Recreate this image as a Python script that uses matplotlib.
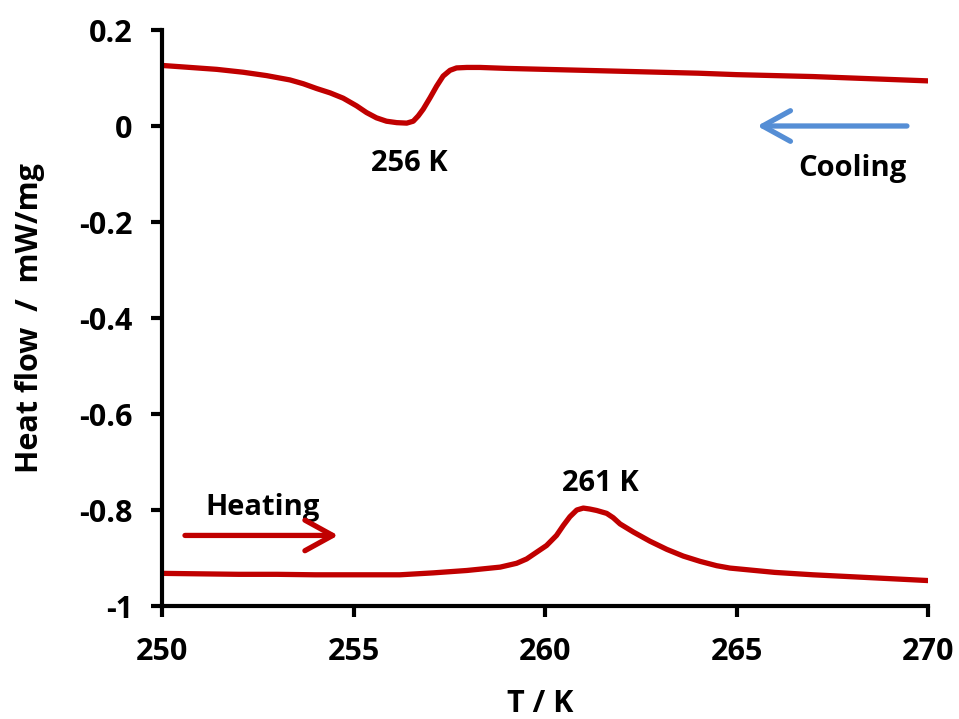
import matplotlib
matplotlib.use("Agg")
import matplotlib.pyplot as plt

# Cooling curve (T in K, heat flow in mW/mg)
cool_T = [250.03, 250.56, 251.43, 252.12, 252.73, 253.34, 253.69, 254.04, 254.39, 254.73,
          255.08, 255.34, 255.6, 255.86, 256.13, 256.39, 256.56, 256.69, 256.82, 257.0,
          257.17, 257.34, 257.52, 257.69, 257.96, 258.3, 259.0, 260.0, 261.0, 262.0,
          263.0, 264.0, 265.0, 266.0, 267.0, 268.0, 269.0, 270.0]
cool_Q = [0.126, 0.123, 0.118, 0.112, 0.105, 0.096, 0.088, 0.078, 0.069, 0.058,
          0.042, 0.028, 0.017, 0.010, 0.007, 0.006, 0.010, 0.021, 0.035, 0.059,
          0.083, 0.104, 0.116, 0.121, 0.122, 0.122, 0.120, 0.118, 0.116, 0.114,
          0.112, 0.110, 0.107, 0.105, 0.103, 0.100, 0.097, 0.094]

# Heating curve
heat_T = [250.0, 251.0, 252.0, 253.0, 254.0, 255.0, 256.21, 257.08, 257.96, 258.83,
          259.26, 259.52, 259.78, 260.04, 260.3, 260.48, 260.65, 260.83, 261.0, 261.17,
          261.35, 261.61, 261.78, 261.96, 262.31, 262.74, 263.18, 263.61, 264.05, 264.48,
          264.83, 266.0, 267.0, 268.0, 269.0, 270.0]
heat_Q = [-0.932, -0.933, -0.934, -0.934, -0.935, -0.935, -0.935, -0.931, -0.926, -0.919,
          -0.911, -0.902, -0.888, -0.874, -0.853, -0.832, -0.814, -0.800, -0.796, -0.798,
          -0.801, -0.807, -0.816, -0.829, -0.846, -0.865, -0.882, -0.896, -0.907, -0.916,
          -0.921, -0.930, -0.935, -0.939, -0.943, -0.947]

x_ticks = [250, 255, 260, 265, 270]
y_ticks = [0.2, 0, -0.2, -0.4, -0.6, -0.8, -1]
y_tick_labels = ["0.2", "0", "-0.2", "-0.4", "-0.6", "-0.8", "-1"]

plt.rcParams['font.family'] = ['Open Sans', 'DejaVu Sans']
plt.rcParams['font.weight'] = 'bold'

FS = 21
TFS = 22
fig = plt.figure(figsize=(9.59, 7.19), dpi=100)
ax = fig.add_axes([162/959, 1 - 606/719, (928 - 162)/959, (606 - 30)/719])

red = "#C00000"
blue = "#558ED5"
ax.plot(cool_T, cool_Q, color=red, lw=3.8, solid_joinstyle='round')
ax.plot(heat_T, heat_Q, color=red, lw=3.8, solid_joinstyle='round')

ax.set_xlim(250, 270)
ax.set_ylim(-1, 0.2)
ax.set_xticks(x_ticks)
ax.set_yticks(y_ticks)
ax.set_yticklabels(y_tick_labels)
for s in ['top', 'right']:
    ax.spines[s].set_visible(False)
for s in ['left', 'bottom']:
    ax.spines[s].set_linewidth(3)
    ax.spines[s].set_capstyle('projecting')
ax.tick_params(axis='both', direction='out', width=3, length=8, labelsize=TFS)
ax.tick_params(axis='x', pad=14)
ax.tick_params(axis='y', pad=13)
for lab in ax.get_xticklabels() + ax.get_yticklabels():
    lab.set_fontweight('bold')

fig.text(540/959, 1 - 712/719, "T / K", fontsize=TFS, fontweight='bold',
         ha='center', va='baseline')
fig.text(30/959, 1 - 318/719, "Heat flow  /  mW/mg", fontsize=TFS, fontweight='bold',
         ha='center', va='center', rotation=90)

ax.text(256.47, -0.094, "256 K", fontsize=FS, fontweight='bold', ha='center', va='baseline')
ax.text(261.44, -0.760, "261 K", fontsize=FS, fontweight='bold', ha='center', va='baseline')
ax.text(268.03, -0.104, "Cooling", fontsize=FS, fontweight='bold', ha='center', va='baseline')
ax.text(252.62, -0.810, "Heating", fontsize=FS, fontweight='bold', ha='center', va='baseline')

ax.annotate("", xy=(265.54, 0.0), xytext=(269.45, 0.0),
            arrowprops=dict(arrowstyle="->,head_length=1.0,head_width=0.55",
                            mutation_scale=20, color=blue, lw=3.8,
                            shrinkA=0, shrinkB=0))
ax.annotate("", xy=(254.6, -0.853), xytext=(250.6, -0.853),
            arrowprops=dict(arrowstyle="->,head_length=1.0,head_width=0.55",
                            mutation_scale=20, color=red, lw=3.8,
                            shrinkA=0, shrinkB=0))

fig.savefig("out.png", dpi=100)
